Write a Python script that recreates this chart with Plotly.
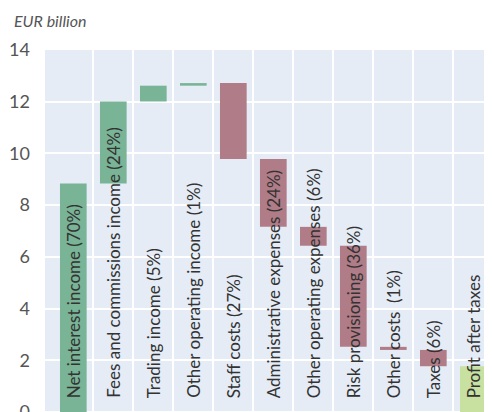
import plotly.graph_objects as go

categories = [
    "Net interest income (70%)",
    "Fees and commissions income (24%)",
    "Trading income (5%)",
    "Other operating income (1%)",
    "Staff costs (27%)",
    "Administrative expenses (24%)",
    "Other operating expenses (6%)",
    "Risk provisioning (36%)",
    "Other costs  (1%)",
    "Taxes (6%)",
    "Profit after taxes",
]
values = [8.84, 3.17, 0.61, 0.10, -2.94, -2.62, -0.73, -3.91, -0.12, -0.63, 0]
measures = ["relative"] * 10 + ["total"]
y_ticks = [0, 2, 4, 6, 8, 10, 12, 14]

GREEN = "#79b496"
RED = "#b07c87"
LIGHT = "#c8e1a1"

xs = list(range(len(categories)))

fig = go.Figure()
fig.add_trace(go.Waterfall(
    x=xs,
    y=values,
    measure=measures,
    width=0.667,
    increasing=dict(marker=dict(color=GREEN)),
    decreasing=dict(marker=dict(color=RED)),
    totals=dict(marker=dict(color=LIGHT)),
    connector=dict(visible=False),
    hoverinfo="skip",
    showlegend=False,
))

for i, lab in enumerate(categories):
    fig.add_annotation(
        x=i, y=0, xref="x", yref="y",
        text=lab, textangle=-90, showarrow=False,
        xanchor="center", yanchor="bottom", yshift=12,
        font=dict(family="Lato", size=17, color="#333333"),
    )

W, H = 492, 440
L, T, B = 37, 42, 0
pw, ph = W - L, H - T - B
px_per_unit = 362 / 14.0
y_min = -(H - 404) / px_per_unit

fig.add_annotation(
    x=(4 - L) / pw, y=1 + (T - 12) / ph, xref="paper", yref="paper",
    text="<i>EUR billion</i>", showarrow=False,
    xanchor="left", yanchor="middle",
    font=dict(family="Lato", size=16, color="#555555"),
)

fig.update_layout(
    width=W, height=H,
    margin=dict(l=L, r=0, t=T, b=B, autoexpand=False),
    paper_bgcolor="white",
    plot_bgcolor="#e5ecf6",
    xaxis=dict(
        range=[-0.708, -0.708 + pw / 40.0],
        tickvals=[i + 0.5 for i in range(10)],
        showticklabels=False, showgrid=True, gridcolor="white", gridwidth=2,
        zeroline=False, ticks="",
    ),
    yaxis=dict(
        range=[y_min, 14], tickvals=y_ticks,
        showgrid=True, gridcolor="white", gridwidth=2, zeroline=False,
        tickfont=dict(family="Lato", size=18, color="#555555"),
        ticklabelstandoff=14,
    ),
)

fig.write_html("out.html")
